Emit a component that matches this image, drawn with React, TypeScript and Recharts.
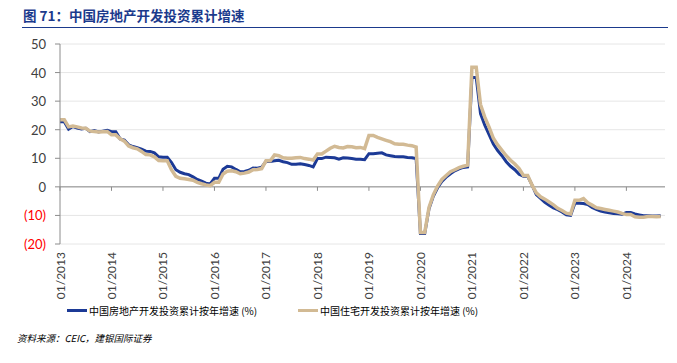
import React from 'react';
import { LineChart, Line, XAxis, YAxis, CartesianGrid, ReferenceLine } from 'recharts';

const years = [2013, 2014, 2015, 2016, 2017, 2018, 2019, 2020, 2021, 2022, 2023, 2024];

// 中国房地产开发投资累计按年增速 (%), Jan..Dec per year (Jan shown = Jan-Feb value)
const realEstate: (number | null)[] = [
  22.8, 22.8, 20.2, 21.1, 20.6, 20.3, 20.5, 19.3, 19.7, 19.2, 19.5, 19.8,
  19.3, 19.3, 16.8, 16.4, 14.7, 14.1, 13.7, 13.2, 12.5, 12.4, 11.9, 10.5,
  10.4, 10.4, 8.5, 6.0, 5.1, 4.6, 4.3, 3.5, 2.6, 2.0, 1.3, 1.0,
  3.0, 3.0, 6.2, 7.2, 7.0, 6.1, 5.3, 5.4, 5.8, 6.6, 6.5, 6.9,
  8.9, 8.9, 9.1, 9.3, 8.8, 8.5, 7.9, 7.9, 8.1, 7.8, 7.5, 7.0,
  9.9, 9.9, 10.4, 10.3, 10.2, 9.7, 10.2, 10.1, 9.9, 9.7, 9.7, 9.5,
  11.6, 11.6, 11.8, 11.9, 11.2, 10.9, 10.6, 10.5, 10.5, 10.3, 10.2, 9.9,
  -16.3, -16.3, -7.7, -3.3, -0.3, 1.9, 3.4, 4.6, 5.6, 6.3, 6.8, 7.0,
  38.3, 38.3, 25.6, 21.6, 18.3, 15.0, 12.7, 10.9, 8.8, 7.2, 6.0, 4.4,
  3.7, 3.7, 0.7, -2.7, -4.0, -5.4, -6.4, -7.4, -8.0, -8.8, -9.8, -10.0,
  -5.7, -5.7, -5.8, -6.2, -7.2, -7.9, -8.5, -8.8, -9.1, -9.3, -9.4, -9.6,
  -9.0, -9.0, -9.5, -9.8, -10.1, -10.1, -10.2, -10.2, -10.1, null,
];

// 中国住宅开发投资累计按年增速 (%)
const residential: (number | null)[] = [
  23.5, 23.5, 21.0, 21.3, 21.0, 20.6, 20.5, 19.5, 19.4, 19.2, 19.3, 19.4,
  18.2, 18.2, 16.8, 16.0, 14.3, 13.7, 13.3, 12.4, 11.3, 11.2, 10.5, 9.2,
  9.1, 9.1, 5.9, 3.7, 3.0, 2.8, 2.6, 2.3, 1.6, 1.1, 0.7, 0.4,
  1.6, 1.6, 4.5, 5.5, 5.6, 5.3, 4.6, 4.8, 5.2, 6.0, 6.1, 6.4,
  9.1, 9.1, 11.2, 10.9, 10.2, 10.0, 10.0, 10.2, 10.3, 9.9, 9.7, 9.4,
  11.5, 11.5, 12.5, 13.5, 14.2, 13.8, 13.6, 14.1, 14.0, 13.7, 13.8, 13.4,
  18.0, 18.0, 17.3, 16.8, 16.3, 15.8, 15.1, 14.9, 14.9, 14.6, 14.4, 13.9,
  -16.0, -16.0, -7.2, -2.8, 0.3, 2.6, 4.0, 5.3, 6.0, 6.7, 7.2, 7.6,
  41.9, 41.9, 28.8, 24.4, 20.9, 17.0, 14.7, 12.8, 10.9, 9.3, 8.0, 6.4,
  4.0, 4.0, 0.7, -2.1, -3.5, -4.3, -5.3, -6.3, -7.5, -8.3, -9.2, -9.5,
  -4.7, -4.7, -4.1, -5.6, -6.4, -7.3, -7.6, -7.9, -8.2, -8.5, -8.8, -9.3,
  -9.7, -9.7, -10.5, -10.6, -10.6, -10.4, -10.4, -10.5, -10.4, null,
];

const yTicks = [-20, -10, 0, 10, 20, 30, 40, 50];

const months: string[] = [];
years.forEach((y) => {
  for (let m = 1; m <= 12; m++) {
    if (y === 2024 && m > 10) break;
    months.push(`${m < 10 ? '0' + m : m}/${y}`);
  }
});

const data = months.map((m, i) => ({
  month: m,
  realEstate: realEstate[i] ?? null,
  residential: residential[i] ?? null,
}));

const januaries = years.map((y) => `01/${y}`);

const BLUE = '#1C3A96';
const TAN = '#D2BA94';
const FONT = 'Lato, "Noto Sans", sans-serif';
const CJK = '"Noto Sans CJK SC", sans-serif';

const XTick = (props: any) => {
  const { x, y, payload } = props;
  return (
    <text
      x={x}
      y={y}
      transform={`rotate(-90, ${x}, ${y})`}
      textAnchor="end"
      dominantBaseline="central"
      fontSize={12}
      fontFamily={FONT}
      fill="#404040"
    >
      {payload.value}
    </text>
  );
};

const YTick = (props: any) => {
  const { x, y, payload } = props;
  const v = payload.value as number;
  const neg = v < 0;
  return (
    <text
      x={x}
      y={y}
      textAnchor="end"
      dominantBaseline="central"
      fontSize={13}
      fontFamily={FONT}
      fill={neg ? '#FF0000' : '#404040'}
    >
      {neg ? `(${-v})` : `${v}`}
    </text>
  );
};

export default function App() {
  return (
    <div
      style={{
        position: 'absolute',
        left: 0,
        top: 0,
        width: 677,
        height: 363,
        background: '#fff',
        overflow: 'hidden',
      }}
    >
      <div
        style={{
          position: 'absolute',
          left: 23,
          top: 6,
          fontFamily: CJK,
          fontWeight: 700,
          fontSize: 13.5,
          color: '#1B3A8C',
          whiteSpace: 'nowrap',
          lineHeight: '18px',
        }}
      >
        图 71：中国房地产开发投资累计增速
      </div>
      <div
        style={{
          position: 'absolute',
          left: 22,
          top: 27,
          width: 646,
          height: 0,
          borderTop: '1.5px solid #1B3A8C',
        }}
      />
      <div style={{ position: 'absolute', left: 0, top: 0 }}>
        <LineChart
          width={677}
          height={300}
          data={data}
          margin={{ top: 44, right: 12, left: 0, bottom: 0 }}
        >
          <CartesianGrid vertical={false} stroke="#E6E6E6" strokeWidth={1} />
          <XAxis
            dataKey="month"
            interval={11}
            axisLine={false}
            tickLine={false}
            height={56}
            tick={<XTick />}
          />
          <YAxis
            type="number"
            domain={[-20, 50]}
            ticks={yTicks}
            width={60}
            axisLine={{ stroke: '#8C8C8C' }}
            tickLine={{ stroke: '#8C8C8C' }}
            tickSize={5}
            tickMargin={9}
            tick={<YTick />}
            allowDataOverflow
          />
          <ReferenceLine y={0} stroke="#8C8C8C" strokeWidth={1} ifOverflow="extendDomain" />
          {januaries.map((j) => (
            <ReferenceLine
              key={j}
              segment={[
                { x: j, y: 0 },
                { x: j, y: -1.4 },
              ]}
              stroke="#8C8C8C"
              strokeWidth={1}
            />
          ))}
          <Line
            type="linear"
            dataKey="realEstate"
            stroke={BLUE}
            strokeWidth={3}
            dot={false}
            isAnimationActive={false}
          />
          <Line
            type="linear"
            dataKey="residential"
            stroke={TAN}
            strokeWidth={3.5}
            dot={false}
            isAnimationActive={false}
          />
        </LineChart>
      </div>
      <div
        style={{
          position: 'absolute',
          left: 67,
          top: 302,
          display: 'flex',
          alignItems: 'center',
          fontFamily: CJK,
          fontSize: 10,
          color: '#000',
          whiteSpace: 'nowrap',
          height: 16,
        }}
      >
        <span style={{ display: 'inline-block', width: 20, height: 3, background: BLUE, marginRight: 2 }} />
        <span>中国房地产开发投资累计按年增速 (%)</span>
      </div>
      <div
        style={{
          position: 'absolute',
          left: 298,
          top: 302,
          display: 'flex',
          alignItems: 'center',
          fontFamily: CJK,
          fontSize: 10,
          color: '#000',
          whiteSpace: 'nowrap',
          height: 16,
        }}
      >
        <span style={{ display: 'inline-block', width: 20, height: 3, background: TAN, marginRight: 2 }} />
        <span>中国住宅开发投资累计按年增速 (%)</span>
      </div>
      <div
        style={{
          position: 'absolute',
          left: 17,
          top: 331,
          fontFamily: CJK,
          fontSize: 9.5,
          fontStyle: 'italic',
          color: '#000',
          whiteSpace: 'nowrap',
          lineHeight: '14px',
        }}
      >
        资料来源：CEIC，建银国际证券
      </div>
    </div>
  );
}
